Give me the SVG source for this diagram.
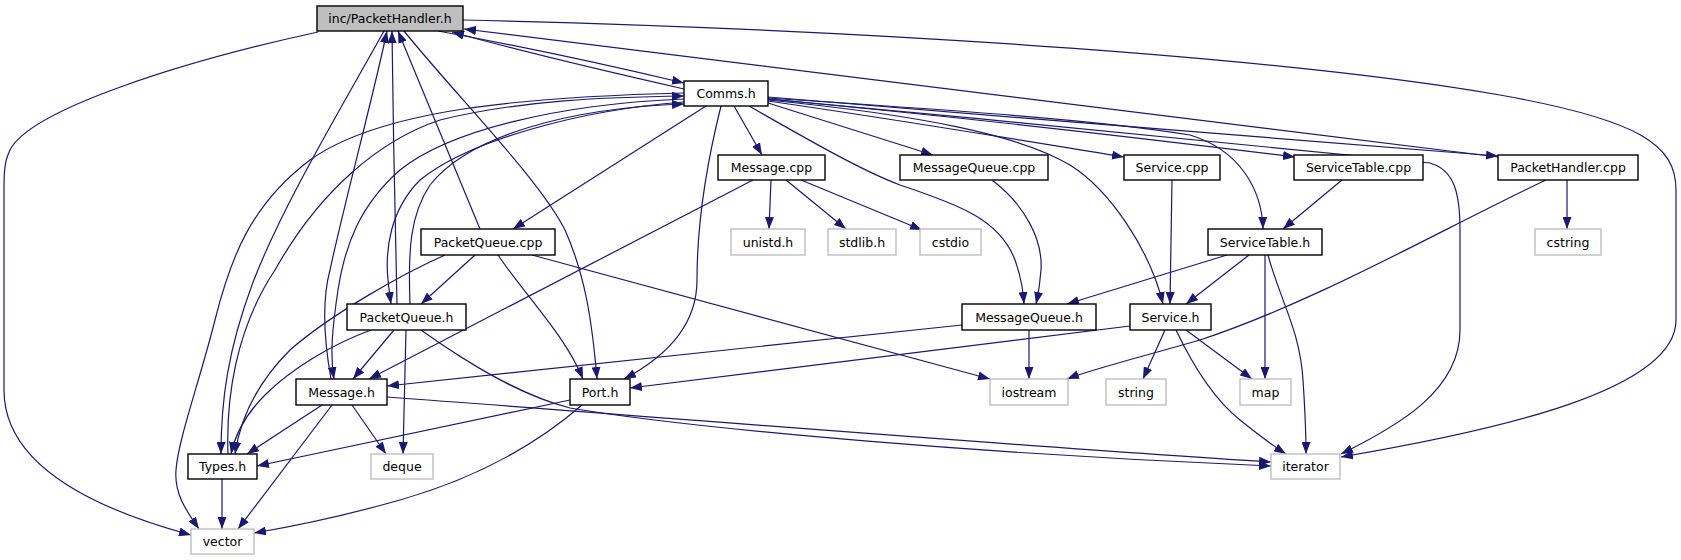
<svg xmlns="http://www.w3.org/2000/svg" width="1681" height="560" viewBox="0 0 1681 560">
<style>
.e{fill:none;stroke:#191970;stroke-width:1.2;marker-end:url(#ah)}
.n rect{fill:#fff;stroke:#000;stroke-width:1.4}
.x rect{fill:#fff;stroke:#bfbfbf;stroke-width:1.4}
.r rect{fill:#bfbfbf;stroke:#000;stroke-width:1.4}
text{font-family:"DejaVu Sans","Liberation Sans",sans-serif;font-size:12.5px;fill:#000;text-anchor:middle}
</style>
<defs>
<marker id="ah" viewBox="0 0 12 9" refX="12" refY="4.5" markerWidth="12" markerHeight="9" markerUnits="userSpaceOnUse" orient="auto">
<path d="M0,0 L12,4.5 L0,9 z" fill="#191970"/>
</marker>
</defs>
<rect width="1681" height="560" fill="#fff"/>
<g id="connectors">
<path class="e" d="M318,32 C180,62 30,110 10,150 C4,162 4,175 4,190 L4,390 C4,460 80,505 191,535"/>
<path class="e" d="M438,31 C520,46 600,63 684,83"/>
<path class="e" d="M684,89 C600,70 520,51 452,32"/>
<path class="e" d="M1498,157 L464,29"/>
<path class="e" d="M463,20 C900,30 1300,60 1500,95 C1640,120 1676,145 1676,190 L1676,320 C1676,390 1500,430 1341,457"/>
<path class="e" d="M384,31 C340,110 280,210 252,285 C228,350 221,400 221,454"/>
<path class="e" d="M331,379 C324,340 322,300 330,270 C345,200 370,110 387,31"/>
<path class="e" d="M397,304 C395,220 393,120 392,31"/>
<path class="e" d="M480,229 L398,31"/>
<path class="e" d="M404,31 C460,100 540,180 565,230 C585,275 592,320 597,379"/>
<path class="e" d="M684,93 C520,97 380,110 310,160 C250,205 230,260 215,320 C200,380 178,440 176,470 C174,495 188,513 199,529"/>
<path class="e" d="M228,454 C226,400 235,330 275,270 C320,190 380,140 440,120 C520,100 610,97 684,96"/>
<path class="e" d="M684,99 C560,104 450,130 400,170 C360,205 345,245 338,290 C332,330 330,355 334,379"/>
<path class="e" d="M684,102 C580,110 470,140 420,180 C390,210 385,250 388,280 C389,290 390,297 391,304"/>
<path class="e" d="M410,304 C408,250 410,215 430,185 C470,135 570,108 684,104"/>
<path class="e" d="M706,106 L513,229"/>
<path class="e" d="M721,106 C705,170 697,230 697,280 C697,330 660,360 624,379"/>
<path class="e" d="M734,106 L762,155"/>
<path class="e" d="M749,106 C800,135 860,170 900,185 C960,205 1000,220 1015,260 C1022,280 1023,292 1024,304"/>
<path class="e" d="M768,103 L933,155"/>
<path class="e" d="M768,101 C900,120 1020,140 1124,157"/>
<path class="e" d="M768,99 C950,116 1150,139 1295,157"/>
<path class="e" d="M768,97 C1000,116 1300,141 1498,156"/>
<path class="e" d="M768,98 C950,110 1100,120 1190,135 C1240,150 1262,190 1263,229"/>
<path class="e" d="M768,100 C920,115 1020,135 1070,165 C1110,190 1150,250 1163,304"/>
<path class="e" d="M768,99 C1000,120 1300,150 1430,163 C1455,170 1460,195 1460,230 L1460,330 C1460,390 1400,425 1341,454"/>
<path class="e" d="M753,180 L369,379"/>
<path class="e" d="M771,180 L769,229"/>
<path class="e" d="M786,180 L846,229"/>
<path class="e" d="M801,180 L922,230"/>
<path class="e" d="M992,180 C1025,205 1043,240 1041,270 C1040,285 1038,295 1036,304"/>
<path class="e" d="M1172,180 L1170,304"/>
<path class="e" d="M1342,180 L1283,229"/>
<path class="e" d="M1567,180 L1567,229"/>
<path class="e" d="M1546,180 C1440,230 1320,300 1200,340 C1130,360 1090,370 1067,379"/>
<path class="e" d="M1227,255 L1067,304"/>
<path class="e" d="M1249,255 L1186,304"/>
<path class="e" d="M1265,255 L1265,379"/>
<path class="e" d="M1268,255 C1280,300 1300,330 1303,380 C1305,410 1306,430 1306,454"/>
<path class="e" d="M1130,326 L630,388"/>
<path class="e" d="M1165,330 L1143,379"/>
<path class="e" d="M1186,330 L1252,379"/>
<path class="e" d="M1176,330 C1195,370 1215,400 1240,420 C1255,432 1270,444 1286,454"/>
<path class="e" d="M1029,330 L1029,379"/>
<path class="e" d="M962,325 C800,342 600,363 387,386"/>
<path class="e" d="M475,255 L421,304"/>
<path class="e" d="M498,255 C525,295 565,335 583,379"/>
<path class="e" d="M532,255 L990,379"/>
<path class="e" d="M445,255 C400,275 330,315 290,350 C255,385 240,420 235,454"/>
<path class="e" d="M394,330 L353,379"/>
<path class="e" d="M406,330 L403,454"/>
<path class="e" d="M371,330 C330,345 290,370 265,395 C245,415 235,435 231,454"/>
<path class="e" d="M421,330 C470,365 520,395 570,408 C700,430 1000,455 1271,466"/>
<path class="e" d="M387,397 C700,420 1000,445 1271,462"/>
<path class="e" d="M322,405 L247,454"/>
<path class="e" d="M332,405 L238,529"/>
<path class="e" d="M352,405 L386,454"/>
<path class="e" d="M222,479 L222,529"/>
<path class="e" d="M570,400 L257,466"/>
<path class="e" d="M582,405 C530,450 470,480 400,500 C340,517 290,527 254,533"/>
</g>
<g id="n-packethandler-h" class="r"><rect x="317" y="6" width="146" height="25"/><text x="390" y="23">inc/PacketHandler.h</text></g>
<g id="n-comms-h" class="n"><rect x="684" y="81" width="84" height="25"/><text x="726" y="98">Comms.h</text></g>
<g id="n-message-cpp" class="n"><rect x="718" y="155" width="107" height="25"/><text x="771.5" y="172">Message.cpp</text></g>
<g id="n-messagequeue-cpp" class="n"><rect x="900" y="155" width="148" height="25"/><text x="974" y="172">MessageQueue.cpp</text></g>
<g id="n-service-cpp" class="n"><rect x="1124" y="155" width="96" height="25"/><text x="1172" y="172">Service.cpp</text></g>
<g id="n-servicetable-cpp" class="n"><rect x="1294" y="155" width="129" height="25"/><text x="1358.5" y="172">ServiceTable.cpp</text></g>
<g id="n-packethandler-cpp" class="n"><rect x="1498" y="155" width="140" height="25"/><text x="1568" y="172">PacketHandler.cpp</text></g>
<g id="n-packetqueue-cpp" class="n"><rect x="421" y="229" width="134" height="26"/><text x="488" y="246.5">PacketQueue.cpp</text></g>
<g id="n-unistd" class="x"><rect x="731" y="229" width="74" height="26"/><text x="768" y="246.5">unistd.h</text></g>
<g id="n-stdlib" class="x"><rect x="828" y="229" width="68" height="26"/><text x="862" y="246.5">stdlib.h</text></g>
<g id="n-cstdio" class="x"><rect x="920" y="229" width="61" height="26"/><text x="950.5" y="246.5">cstdio</text></g>
<g id="n-servicetable-h" class="n"><rect x="1208" y="229" width="114" height="26"/><text x="1265" y="246.5">ServiceTable.h</text></g>
<g id="n-cstring" class="x"><rect x="1535" y="229" width="66" height="26"/><text x="1568" y="246.5">cstring</text></g>
<g id="n-packetqueue-h" class="n"><rect x="347" y="304" width="119" height="26"/><text x="406.5" y="321.5">PacketQueue.h</text></g>
<g id="n-messagequeue-h" class="n"><rect x="962" y="304" width="134" height="26"/><text x="1029" y="321.5">MessageQueue.h</text></g>
<g id="n-service-h" class="n"><rect x="1130" y="304" width="81" height="26"/><text x="1170.5" y="321.5">Service.h</text></g>
<g id="n-message-h" class="n"><rect x="296" y="379" width="91" height="26"/><text x="341.5" y="396.5">Message.h</text></g>
<g id="n-port-h" class="n"><rect x="570" y="379" width="60" height="26"/><text x="600" y="396.5">Port.h</text></g>
<g id="n-iostream" class="x"><rect x="990" y="379" width="78" height="26"/><text x="1029" y="396.5">iostream</text></g>
<g id="n-string" class="x"><rect x="1106" y="379" width="60" height="26"/><text x="1136" y="396.5">string</text></g>
<g id="n-map" class="x"><rect x="1240" y="379" width="51" height="26"/><text x="1265.5" y="396.5">map</text></g>
<g id="n-types-h" class="n"><rect x="188" y="454" width="69" height="25"/><text x="222.5" y="471">Types.h</text></g>
<g id="n-deque" class="x"><rect x="371" y="454" width="62" height="25"/><text x="402" y="471">deque</text></g>
<g id="n-iterator" class="x"><rect x="1271" y="454" width="69" height="25"/><text x="1305.5" y="471">iterator</text></g>
<g id="n-vector" class="x"><rect x="191" y="529" width="63" height="25"/><text x="222.5" y="546">vector</text></g>
</svg>
